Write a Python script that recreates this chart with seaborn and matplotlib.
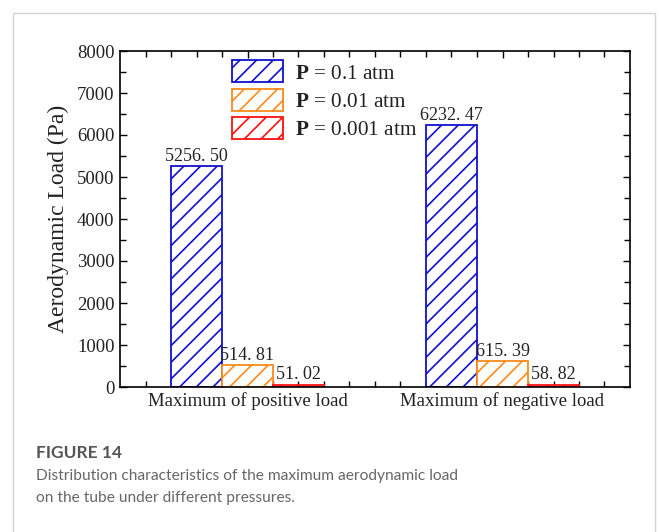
import matplotlib
matplotlib.use("Agg")
import matplotlib.pyplot as plt
import seaborn as sns
import pandas as pd
import numpy as np
from matplotlib.patches import Patch, Rectangle
from matplotlib.ticker import MultipleLocator, FixedLocator

categories = ["Maximum of positive load", "Maximum of negative load"]
pressures = ["0.1 atm", "0.01 atm", "0.001 atm"]
values_01 = [5256.50, 6232.47]
values_001 = [514.81, 615.39]
values_0001 = [51.02, 58.82]
value_labels_01 = ["5256. 50", "6232. 47"]
value_labels_001 = ["514. 81", "615. 39"]
value_labels_0001 = ["51. 02", "58. 82"]
colors = ["#1010d0", "#ff8a1a", "#ff1010"]
y_ticks = [0, 1000, 2000, 3000, 4000, 5000, 6000, 7000, 8000]

sns.set_theme(style="white")
plt.rcParams["font.family"] = ["Liberation Serif", "DejaVu Serif"]
plt.rcParams["mathtext.fontset"] = "custom"
plt.rcParams["mathtext.rm"] = "Liberation Serif"
plt.rcParams["mathtext.bf"] = "Liberation Serif:bold"
plt.rcParams["hatch.linewidth"] = 1.2

rows = []
for series, vals in zip(pressures, [values_01, values_001, values_0001]):
    for c, v in zip(categories, vals):
        rows.append({"category": c, "pressure": series, "value": v})
df = pd.DataFrame(rows)

fig = plt.figure(figsize=(6.59, 5.32), dpi=100)
ax = fig.add_axes([120/659, 1-387/532, 510/659, 336/532])

sns.barplot(data=df, x="category", y="value", hue="pressure", hue_order=pressures,
            order=categories, palette=colors, width=0.6, ax=ax, legend=False,
            errorbar=None, saturation=1)

labels_all = [value_labels_01, value_labels_001, value_labels_0001]
for cont, col, labs in zip(ax.containers, colors, labels_all):
    for p in cont.patches:
        p.set_facecolor("white")
        p.set_edgecolor(col)
        p.set_linewidth(1.3)
        p.set_hatch("//")
        try:
            p.set_hatchcolor(col)
        except Exception:
            pass
    ax.bar_label(cont, labels=labs, padding=1, fontsize=13, color="#222222")

ax.set_xlim(-0.5, 1.5)
ax.set_ylim(0, 8000)
ax.yaxis.set_major_locator(FixedLocator(y_ticks))
ax.yaxis.set_minor_locator(MultipleLocator(500))
ax.xaxis.set_minor_locator(FixedLocator(np.arange(-0.4, 1.45, 0.1)))
ax.tick_params(axis="both", which="both", direction="in", top=True, right=True,
               bottom=True, left=True, color="black", width=1.0)
ax.tick_params(axis="both", which="major", length=5, labelsize=13.5, colors="black",
               labelcolor="#222222", pad=4)
ax.tick_params(axis="both", which="minor", length=4)
for s in ax.spines.values():
    s.set_color("black")
    s.set_linewidth(1.2)
ax.set_xlabel("")
ax.set_ylabel("Aerodynamic Load (Pa)", fontsize=17, color="#222222", labelpad=6)

handles = []
for col, pr in zip(colors, pressures):
    h = Patch(facecolor="white", edgecolor=col, hatch="//", linewidth=1.3,
              label=r"$\mathbf{P}$ = " + pr)
    try:
        h.set_hatchcolor(col)
    except Exception:
        pass
    handles.append(h)
leg = ax.legend(handles=handles, loc="upper left", bbox_to_anchor=(0.19, 1.016),
                frameon=False, fontsize=15.3, handlelength=2.4, handleheight=1.2,
                handletextpad=0.58, labelspacing=0.25, borderpad=0.2)
for t in leg.get_texts():
    t.set_color("#222222")

fig.patches.append(Rectangle((13/659, -0.05), 642/659, 1.05 - 13/532, transform=fig.transFigure,
                             fill=False, edgecolor="#d4d4d4", linewidth=1.0))

cap_font = ["Lato", "DejaVu Sans"]
fig.text(36/659, 1-453/532, "FIGURE 14", fontsize=12.5, fontweight="bold", color="#555555",
         family=cap_font, va="center")
fig.text(36/659, 1-476/532, "Distribution characteristics of the maximum aerodynamic load",
         fontsize=11.2, color="#666666", family=cap_font, va="center")
fig.text(36/659, 1-498/532, "on the tube under different pressures.",
         fontsize=11.2, color="#666666", family=cap_font, va="center")

fig.savefig("out.png", dpi=100, facecolor="white")
